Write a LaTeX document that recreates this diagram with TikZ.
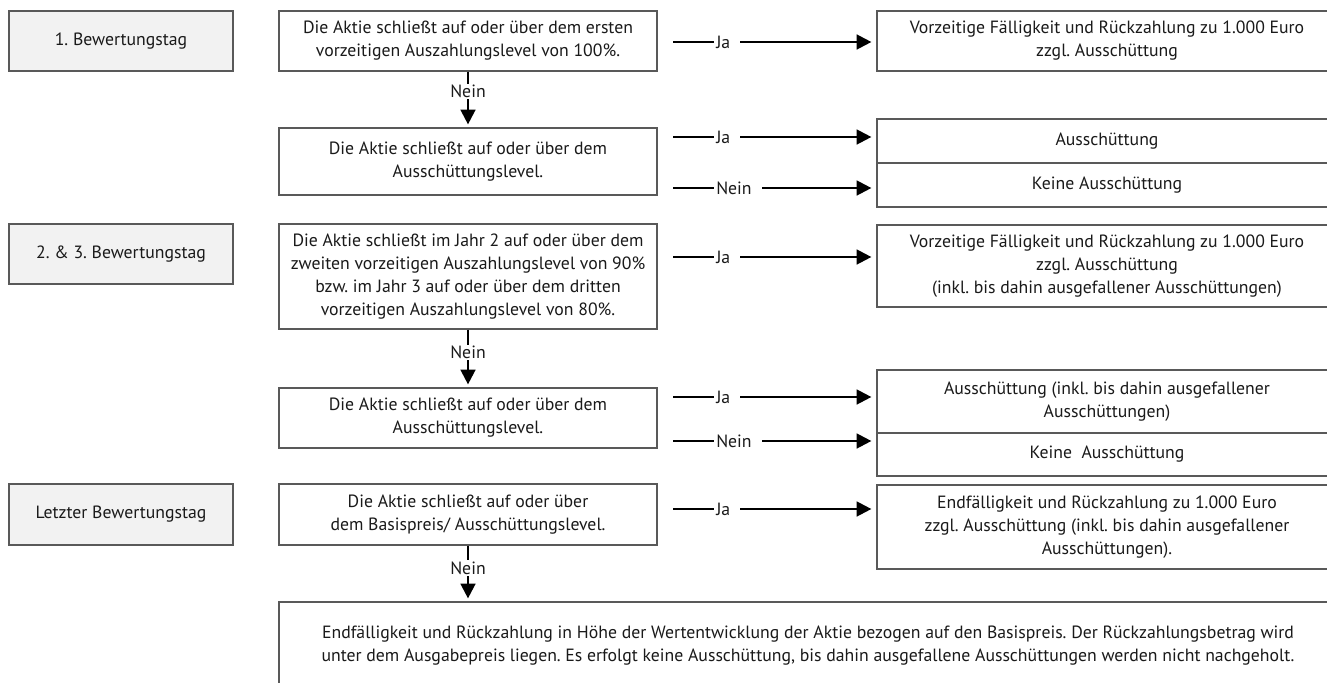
\documentclass[tikz,border=0pt]{standalone}
\usepackage{fontspec}
\setmainfont{PT Sans}
\usetikzlibrary{arrows.meta,calc}
\definecolor{bordergray}{HTML}{595959}
\definecolor{fillgray}{HTML}{F2F2F2}
\definecolor{textcol}{HTML}{1A1A1A}
\frenchspacing
\begin{document}
\begin{tikzpicture}[x=0.75pt,y=-0.75pt,
  txt/.style={font=\fontsize{13.3pt}{17.25pt}\selectfont\frenchspacing, text=textcol},
  box/.style={txt, draw=bordergray, line width=0.9pt, fill=white, align=center, inner sep=0pt},
  daybox/.style={box, fill=fillgray, minimum width=168pt, minimum height=45pt},
  midbox/.style={box, minimum width=283.5pt},
  resbox/.style={box, minimum width=345pt},
  arr/.style={line width=1.7pt, -{Triangle[length=11pt,width=11pt]}},
  lbl/.style={txt, fill=white, inner xsep=1.5pt, inner ysep=1pt},
]
\useasboundingbox (0,0) rectangle (1327,682);
\clip (0,0) rectangle (1327,682);

% day boxes
\node[daybox] (l1) at (121,41) {1. Bewertungstag};
\node[daybox] (l2) at (121,254) {2. \& 3. Bewertungstag};
\node[daybox, minimum height=45.75pt] (l3) at (121,514.5) {Letzter Bewertungstag};

% middle boxes
\node[midbox, minimum height=45pt] (m1) at (468,41) {Die Aktie schließt auf oder über dem ersten\\vorzeitigen Auszahlungslevel von 100\%.};
\node[midbox, minimum height=50.25pt] (m2) at (468,161.5) {Die Aktie schließt auf oder über dem\\Ausschüttungslevel.};
\node[midbox, minimum height=78.75pt] (m3) at (468,276.5) {Die Aktie schließt im Jahr 2 auf oder über dem\\zweiten vorzeitigen Auszahlungslevel von 90\%\\bzw. im Jahr 3 auf oder über dem dritten\\vorzeitigen Auszahlungslevel von 80\%.};
\node[midbox, minimum height=45pt] (m4) at (468,418) {Die Aktie schließt auf oder über dem\\Ausschüttungslevel.};
\node[midbox, minimum height=45.75pt] (m5) at (468,514.5) {Die Aktie schließt auf oder über\\dem Basispreis/ Ausschüttungslevel.};

% result boxes
\node[resbox, minimum height=45pt] (r1) at (1107,41) {Vorzeitige Fälligkeit und Rückzahlung zu 1.000 Euro\\zzgl. Ausschüttung};
\node[resbox, minimum height=33pt] (r2a) at (1107,141) {Ausschüttung};
\node[resbox, minimum height=33pt] (r2b) at (1107,185) {Keine Ausschüttung};
\node[resbox, minimum height=61.5pt] (r3) at (1107,266) {Vorzeitige Fälligkeit und Rückzahlung zu 1.000 Euro\\zzgl. Ausschüttung\\(inkl. bis dahin ausgefallener Ausschüttungen)};
\node[resbox, minimum height=47.25pt] (r4a) at (1107,401.5) {Ausschüttung (inkl. bis dahin ausgefallener\\Ausschüttungen)};
\node[resbox, minimum height=32.25pt] (r4b) at (1107,454.5) {Keine\ \ Ausschüttung};
\node[resbox, minimum height=63pt] (r5) at (1107,527) {Endfälligkeit und Rückzahlung zu 1.000 Euro\\zzgl. Ausschüttung (inkl. bis dahin ausgefallener\\Ausschüttungen).};

% final box
\node[box, minimum width=793.5pt, minimum height=66pt] (b) at (808,646) {Endfälligkeit und Rückzahlung in Höhe der Wertentwicklung der Aktie bezogen auf den Basispreis. Der Rückzahlungsbetrag wird\\unter dem Ausgabepreis liegen. Es erfolgt keine Ausschüttung, bis dahin ausgefallene Ausschüttungen werden nicht nachgeholt.};

% vertical Nein arrows
\draw[arr, shorten >=2.25pt] (m1.south) -- (m2.north) node[lbl, pos=0.36] {Nein};
\draw[arr, shorten >=2.25pt] (m3.south) -- (m4.north) node[lbl, pos=0.40] {Nein};
\draw[arr, shorten >=2.25pt] (m5.south) -- (m5.south |- b.north) node[lbl, pos=0.40] {Nein};

% horizontal arrows
\coordinate (s1) at (673,42);
\coordinate (s2) at (673,137);
\coordinate (s3) at (673,188);
\coordinate (s4) at (673,257);
\coordinate (s5) at (673,397);
\coordinate (s6) at (673,441);
\coordinate (s7) at (673,509);
\foreach \s/\r/\t in {s1/r1/Ja, s2/r2a/Ja, s3/r2b/Nein, s4/r3/Ja, s5/r4a/Ja, s6/r4b/Nein, s7/r5/Ja}{
  \draw[arr, shorten >=3.75pt] (\s) -- (\s -| \r.west);
  \node[lbl, anchor=west] at ($(\s)+(41,0)$) {\t\kern6pt};
}
\end{tikzpicture}
\end{document}
